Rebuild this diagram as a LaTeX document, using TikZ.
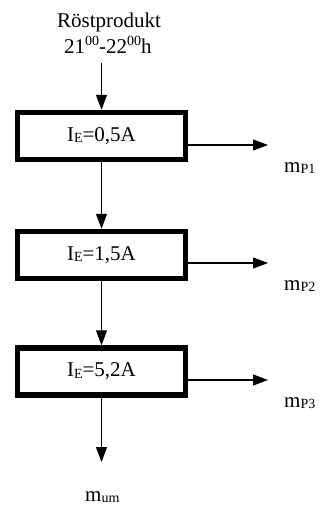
\documentclass[tikz,border=0pt]{standalone}
\usepackage{fontspec}
\setmainfont{Liberation Serif}
\usetikzlibrary{arrows.meta}
\newcommand{\lo}[1]{\raisebox{-1.5pt}{\fontsize{14}{14}\selectfont #1}}
\newcommand{\hi}[1]{\raisebox{7.5pt}{\fontsize{14}{14}\selectfont #1}}
\begin{document}
\begin{tikzpicture}[x=1pt,y=-1pt,
  font=\fontsize{21}{24}\selectfont,
  box/.style={draw, line width=5.5pt, minimum width=168pt, minimum height=47pt, inner sep=0pt},
  arr/.style={-{Triangle[length=15pt,width=11pt]}, line width=1.1pt},
  lbl/.style={inner sep=0pt, anchor=base west}]
\useasboundingbox (0,0) rectangle (327,507);
\node[lbl] (t1) at (57,27) {Röstprodukt};
\node[lbl] (t2) at (64,53) {21\hi{00}-22\hi{00}h};
\coordinate (s) at (101.5,63);
\node[box] (b1) at (101.5,136) {I\lo{E}=0,5A};
\node[box] (b2) at (101.5,255) {I\lo{E}=1,5A};
\node[box] (b3) at (101.5,371.5) {I\lo{E}=5,2A};
\coordinate (e1) at (268,145);
\coordinate (e2) at (268,263);
\coordinate (e3) at (268,380);
\coordinate (e4) at (101.5,462);
\node[lbl] (m1) at (284,172) {m\lo{P1}};
\node[lbl] (m2) at (284,290) {m\lo{P2}};
\node[lbl] (m3) at (284,407) {m\lo{P3}};
\node[lbl] (m4) at (85,501) {m\lo{um}};
\draw[arr] (s) -- (b1.north);
\draw[arr] (b1.south) -- (b2.north);
\draw[arr] (b2.south) -- (b3.north);
\draw[arr] (b3.south) -- (e4);
\draw[arr] (b1.east |- e1) -- (e1);
\draw[arr] (b2.east |- e2) -- (e2);
\draw[arr] (b3.east |- e3) -- (e3);
\end{tikzpicture}
\end{document}
